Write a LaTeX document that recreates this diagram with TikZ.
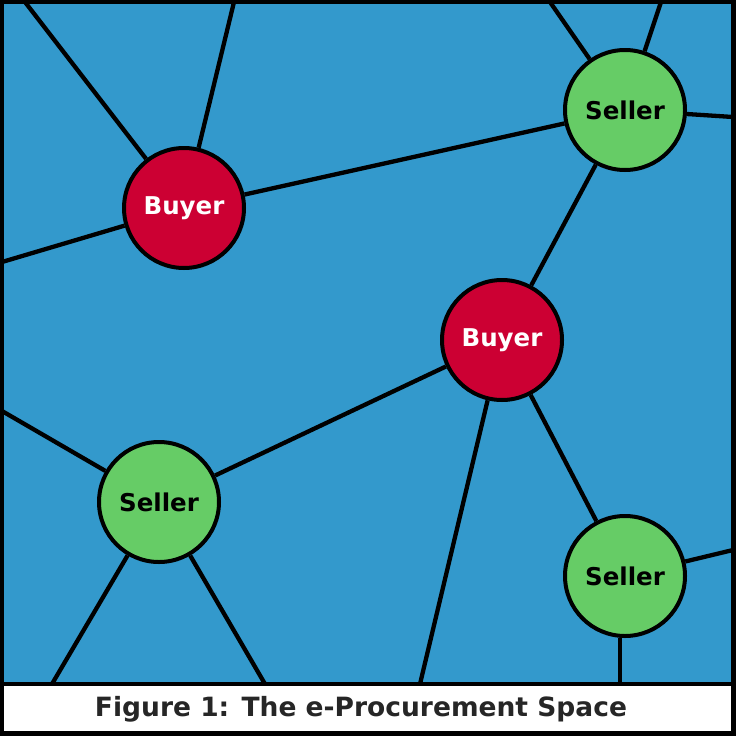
\documentclass[tikz,border=0pt]{standalone}
\usepackage{fontspec}
\setmainfont{DejaVu Sans}
\definecolor{bgblue}{HTML}{3399CC}
\definecolor{buyred}{HTML}{CC0033}
\definecolor{selgreen}{HTML}{66CC66}
\definecolor{captxt}{HTML}{262626}
\begin{document}
\begin{tikzpicture}[x=1pt,y=-1pt,
  party/.style={circle,draw=black,line width=4pt,minimum size=120pt,inner sep=0pt,font=\bfseries\fontsize{24.5}{28}\selectfont},
  buyer/.style={party,fill=buyred,text=white},
  seller/.style={party,fill=selgreen,text=black},
  link/.style={draw=black,line width=4.3pt}]
\useasboundingbox (0,0) rectangle (736,736);
\fill[black] (0,0) rectangle (736,736);
\fill[bgblue] (4,4) rectangle (731,682);
\fill[white] (4,686) rectangle (731,731);
% border coordinates
\coordinate (t1) at (25,2);
\coordinate (t2) at (234,2);
\coordinate (l1) at (2,262);
\coordinate (t3) at (550,2);
\coordinate (t4) at (661,2);
\coordinate (r1) at (733,117);
\coordinate (b1) at (420,684);
\coordinate (l2) at (2,411);
\coordinate (b2) at (52,684);
\coordinate (b3) at (265,684);
\coordinate (r2) at (733,550);
\coordinate (b4) at (620,684);
% nodes
\node[buyer] (buy1) at (184,208) {Buyer};
\node[seller] (selA) at (625,110) {Seller};
\node[buyer] (buy2) at (502,340) {Buyer};
\node[seller] (selB) at (159,502) {Seller};
\node[seller] (selC) at (625,576) {Seller};
% connectors
\draw[link] (buy1) -- (t1);
\draw[link] (buy1) -- (t2);
\draw[link] (buy1) -- (l1);
\draw[link] (buy1) -- (selA);
\draw[link] (selA) -- (t3);
\draw[link] (selA) -- (t4);
\draw[link] (selA) -- (r1);
\draw[link] (selA) -- (buy2);
\draw[link] (buy2) -- (selB);
\draw[link] (buy2) -- (b1);
\draw[link] (buy2) -- (selC);
\draw[link] (selB) -- (l2);
\draw[link] (selB) -- (b2);
\draw[link] (selB) -- (b3);
\draw[link] (selC) -- (r2);
\draw[link] (selC.south -| b4) -- (b4);
% caption
\node[text=captxt,font=\bfseries\fontsize{26.5}{30}\selectfont] (cap) at (361,709) {Figure 1: The e-Procurement Space};
\end{tikzpicture}
\end{document}
